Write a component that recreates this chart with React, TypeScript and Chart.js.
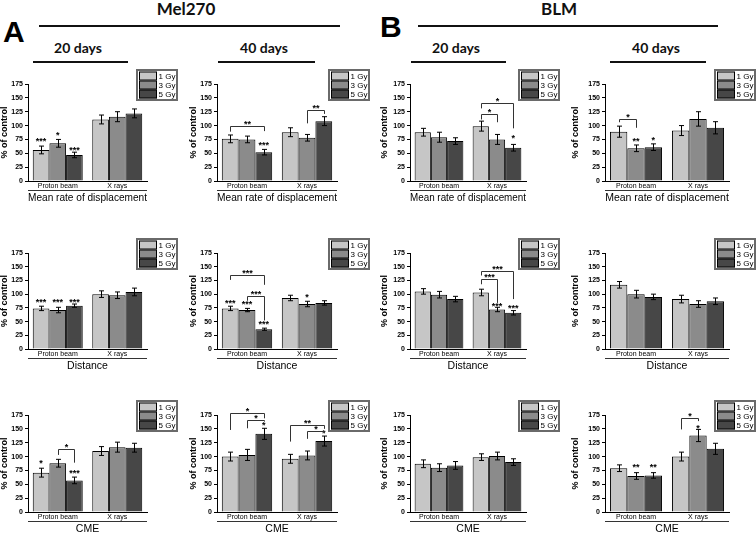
import React, { useEffect, useRef } from "react";
import { Chart, registerables } from "chart.js";

Chart.register(...registerables);
Chart.defaults.font.family = "'Liberation Sans', Arial, sans-serif";
Chart.defaults.color = "#000";

const groups = ["Proton beam", "X rays"];
const doses = ["1 Gy", "3 Gy", "5 Gy"];
const yTicks = [0, 25, 50, 75, 100, 125, 150, 175];
const doseColors = ["#c6c6c6", "#8b8b8b", "#474747"];
const rowTitles = ["Mean rate of displacement", "Distance", "CME"];

// means and SEMs: one row per dose, [proton beam, x rays]
// stars: [dose, group, y, text]
// brackets: [group, doseFrom, doseTo, yTop, yFromEnd, yToEnd, text]
type Star = [number, number, number, string];
type Bracket = [number, number, number, number, number, number, string];

const melDisp20Mean = [[56, 111], [68, 116], [47, 122]];
const melDisp20Err = [[7, 8], [7, 9], [5, 8]];
const melDisp20Stars: Star[] = [[0, 0, 75, "***"], [1, 0, 86, "*"], [2, 0, 60, "***"]];
const melDisp20Brackets: Bracket[] = [];

const melDisp40Mean = [[76, 88], [75, 78], [52, 108]];
const melDisp40Err = [[7, 8], [6, 6], [5, 8]];
const melDisp40Stars: Star[] = [[2, 0, 69, "***"]];
const melDisp40Brackets: Bracket[] = [[0, 0, 2, 100, 89, 90, "**"], [1, 1, 2, 128, 104, 121, "**"]];

const blmDisp20Mean = [[88, 99], [79, 75], [72, 60]];
const blmDisp20Err = [[7, 9], [9, 9], [6, 6]];
const blmDisp20Stars: Star[] = [[2, 1, 81, "*"]];
const blmDisp20Brackets: Bracket[] = [[1, 0, 1, 121, 111, 106, "*"], [1, 0, 2, 141, 131, 95, "*"]];

const blmDisp40Mean = [[89, 91], [59, 112], [61, 96]];
const blmDisp40Err = [[10, 9], [6, 13], [6, 11]];
const blmDisp40Stars: Star[] = [[1, 0, 75, "**"], [2, 0, 78, "*"]];
const blmDisp40Brackets: Bracket[] = [[0, 0, 1, 112, 106, 96, "*"]];

const melDist20Mean = [[74, 100], [71, 98], [79, 104]];
const melDist20Err = [[4, 6], [5, 6], [3, 7]];
const melDist20Stars: Star[] = [[0, 0, 90, "***"], [1, 0, 90, "***"], [2, 0, 90, "***"]];
const melDist20Brackets: Bracket[] = [];

const melDist40Mean = [[74, 93], [71, 82], [36, 84]];
const melDist40Err = [[4, 5], [3, 5], [2, 4]];
const melDist40Stars: Star[] = [[0, 0, 87, "***"], [1, 0, 85, "***"], [2, 0, 49, "***"], [1, 1, 99, "*"]];
const melDist40Brackets: Bracket[] = [[0, 0, 2, 135, 126, 117, "***"], [0, 1, 2, 96, 88, 52, "***"]];

const blmDist20Mean = [[105, 103], [99, 72], [91, 66]];
const blmDist20Err = [[5, 6], [6, 4], [5, 4]];
const blmDist20Stars: Star[] = [[1, 1, 82, "***"], [2, 1, 78, "***"]];
const blmDist20Brackets: Bracket[] = [[1, 0, 1, 128, 118, 84, "***"], [1, 0, 2, 143, 134, 91, "***"]];

const blmDist40Mean = [[117, 91], [100, 82], [95, 87]];
const blmDist40Err = [[6, 7], [7, 6], [5, 6]];

const melCme20Mean = [[71, 110], [88, 117], [57, 116]];
const melCme20Err = [[8, 8], [7, 9], [6, 8]];
const melCme20Stars: Star[] = [[0, 0, 92, "*"], [2, 0, 74, "***"]];
const melCme20Brackets: Bracket[] = [[0, 1, 2, 114, 103, 89, "*"]];

const melCme40Mean = [[100, 96], [103, 102], [141, 128]];
const melCme40Err = [[8, 8], [10, 8], [10, 9]];
const melCme40Stars: Star[] = [[2, 0, 160, "*"], [2, 1, 146, "*"]];
const melCme40Brackets: Bracket[] = [
  [0, 0, 2, 178, 148, 169, "*"],
  [0, 1, 2, 166, 151, 163, "*"],
  [1, 0, 2, 157, 127, 150, "**"],
  [1, 1, 2, 147, 132, 143, "*"],
];

const blmCme20Mean = [[87, 99], [80, 101], [84, 90]];
const blmCme20Err = [[7, 6], [7, 7], [7, 6]];

const blmCme40Mean = [[79, 100], [65, 138], [66, 114]];
const blmCme40Err = [[6, 8], [6, 11], [5, 10]];
const blmCme40Stars: Star[] = [[1, 0, 84, "**"], [2, 0, 84, "**"], [1, 1, 156, "*"]];
const blmCme40Brackets: Bracket[] = [[1, 0, 1, 169, 149, 164, "*"]];

// page layout (pixels)
const columns = [
  { axis: 28, right: 147, yWidth: 29, legendDx: -11 },
  { axis: 217, right: 337, yWidth: 29, legendDx: -9 },
  { axis: 410, right: 526, yWidth: 31, legendDx: -8 },
  { axis: 605, right: 729, yWidth: 35, legendDx: -15 },
];
const rows = [
  { top: 84, bottom: 181 },
  { top: 253, bottom: 349 },
  { top: 415, bottom: 512 },
];
const PAD_TOP = 26;
const PAD_RIGHT = 34;
const X_HEIGHT = 23;

type PanelProps = {
  mean: number[][];
  err: number[][];
  stars?: Star[];
  brackets?: Bracket[];
  row: number;
  col: number;
};

const Panel: React.FC<PanelProps> = ({ mean, err, stars = [], brackets = [], row, col }) => {
  const canvasRef = useRef<HTMLCanvasElement | null>(null);
  const c = columns[col];
  const r = rows[row];
  const width = c.yWidth + (c.right - c.axis) + PAD_RIGHT;
  const height = PAD_TOP + (r.bottom - r.top) + X_HEIGHT;

  useEffect(() => {
    if (!canvasRef.current) return;

    const overlay = {
      id: "overlay",
      afterDatasetsDraw(chart: Chart) {
        const { ctx } = chart;
        const y = chart.scales.y;
        const barX = (d: number, g: number) => (chart.getDatasetMeta(d).data[g] as any).x as number;
        ctx.save();
        ctx.strokeStyle = "#000";
        ctx.lineWidth = 1;
        // error bars
        err.forEach((rowErr, d) => {
          rowErr.forEach((e, g) => {
            const x = Math.round(barX(d, g)) + 0.5;
            const top = y.getPixelForValue(mean[d][g] + e);
            const bot = y.getPixelForValue(mean[d][g] - e);
            ctx.beginPath();
            ctx.moveTo(x, top);
            ctx.lineTo(x, bot);
            ctx.moveTo(x - 2.5, top);
            ctx.lineTo(x + 2.5, top);
            ctx.moveTo(x - 2.5, bot);
            ctx.lineTo(x + 2.5, bot);
            ctx.stroke();
          });
        });
        // significance
        ctx.font = "bold 9px 'Liberation Sans', Arial, sans-serif";
        ctx.textAlign = "center";
        ctx.textBaseline = "alphabetic";
        ctx.fillStyle = "#000";
        stars.forEach(([d, g, v, t]) => {
          ctx.fillText(t, barX(d, g), y.getPixelForValue(v) + 5);
        });
        ctx.strokeStyle = "#333";
        brackets.forEach(([g, d1, d2, top, e1, e2, t]) => {
          const x1 = Math.round(barX(d1, g)) + 0.5;
          const x2 = Math.round(barX(d2, g)) + 0.5;
          const yt = Math.round(y.getPixelForValue(top)) + 0.5;
          ctx.beginPath();
          ctx.moveTo(x1, y.getPixelForValue(e1));
          ctx.lineTo(x1, yt);
          ctx.lineTo(x2, yt);
          ctx.lineTo(x2, y.getPixelForValue(e2));
          ctx.stroke();
          ctx.fillText(t, (x1 + x2) / 2, yt + 0.5);
        });
        ctx.restore();
      },
      afterDraw(chart: Chart) {
        const { ctx, chartArea } = chart;
        const x = chart.scales.x;
        ctx.save();
        // rule under the group labels
        ctx.strokeStyle = "#333";
        ctx.lineWidth = 1;
        ctx.beginPath();
        ctx.moveTo(chartArea.left, Math.round(x.top + 9) + 0.5);
        ctx.lineTo(chartArea.right, Math.round(x.top + 9) + 0.5);
        ctx.stroke();
        // legend box
        const lx = Math.round(chartArea.right + c.legendDx);
        const ly = Math.round(chartArea.top - 15);
        ctx.fillStyle = "#fff";
        ctx.fillRect(lx, ly, 42, 32);
        ctx.strokeStyle = "#6a6a6a";
        ctx.lineWidth = 2;
        ctx.strokeRect(lx + 1, ly + 1, 40, 30);
        ctx.font = "8px 'Liberation Sans', Arial, sans-serif";
        ctx.textAlign = "left";
        ctx.textBaseline = "middle";
        doses.forEach((label, i) => {
          const sy = ly + 2.5 + i * 9;
          ctx.fillStyle = doseColors[i];
          ctx.fillRect(lx + 3, sy, 18, 9);
          ctx.strokeStyle = "#000";
          ctx.lineWidth = 1;
          ctx.strokeRect(lx + 3.5, sy + 0.5, 17, 8);
          ctx.fillStyle = "#000";
          ctx.fillText(label, lx + 22.5, sy + 5);
        });
        ctx.restore();
      },
    };

    const chart = new Chart(canvasRef.current, {
      type: "bar",
      data: {
        labels: groups,
        datasets: doses.map((label, d) => ({
          label,
          data: mean[d],
          backgroundColor: doseColors[d],
          borderColor: "#000",
          borderWidth: 1,
          categoryPercentage: 0.84,
          barPercentage: 1,
        })),
      },
      options: {
        responsive: false,
        animation: false,
        events: [],
        layout: { padding: { top: PAD_TOP, right: PAD_RIGHT, left: 0, bottom: 0 } },
        plugins: {
          legend: { display: false },
          tooltip: { enabled: false },
        },
        scales: {
          x: {
            grid: { display: false, drawTicks: false },
            border: { display: true, color: "#000", width: 1 },
            ticks: { font: { size: 7 }, padding: 1, maxRotation: 0 },
            title: {
              display: true,
              text: rowTitles[row],
              font: { size: 10.5 },
              color: "#000",
              padding: 0,
            },
            afterFit: (axis) => {
              axis.height = X_HEIGHT;
            },
          },
          y: {
            min: 0,
            max: 175,
            afterBuildTicks: (axis) => {
              axis.ticks = yTicks.map((value) => ({ value }));
            },
            grid: { display: true, drawOnChartArea: false, drawTicks: true, tickLength: 3, color: "#000" },
            border: { display: true, color: "#000", width: 1 },
            ticks: { font: { size: 7, weight: "bold" }, padding: 2 },
            title: {
              display: true,
              text: "% of control",
              font: { size: 9, weight: "bold" },
              padding: 0,
            },
            afterFit: (axis) => {
              axis.width = c.yWidth;
            },
          },
        },
      },
      plugins: [overlay],
    });

    return () => {
      chart.destroy();
    };
  }, []);

  return (
    <canvas
      ref={canvasRef}
      width={width}
      height={height}
      style={{ position: "absolute", left: c.axis - c.yWidth, top: r.top - PAD_TOP, width, height }}
    />
  );
};

const headFont = "Lato, 'Open Sans', sans-serif";

const Rule: React.FC<{ x1: number; x2: number; y: number }> = ({ x1, x2, y }) => (
  <div style={{ position: "absolute", left: x1, top: y - 0.75, width: x2 - x1, height: 1.5, background: "#111" }} />
);

const Head: React.FC<{ text: string; cx: number; top: number; size: number }> = ({ text, cx, top, size }) => (
  <div
    style={{
      position: "absolute",
      left: cx - 100,
      width: 200,
      top,
      textAlign: "center",
      fontFamily: headFont,
      fontWeight: 700,
      fontSize: size,
      lineHeight: 1,
      color: "#111",
      whiteSpace: "nowrap",
    }}
  >
    {text}
  </div>
);

const Letter: React.FC<{ text: string; left: number; top: number }> = ({ text, left, top }) => (
  <div
    style={{
      position: "absolute",
      left,
      top,
      fontFamily: "'Liberation Sans', Arial, sans-serif",
      fontWeight: 700,
      fontSize: 30,
      lineHeight: 1,
      color: "#000",
    }}
  >
    {text}
  </div>
);

const App: React.FC = () => {
  return (
    <div style={{ position: "absolute", left: 0, top: 0, width: 756, height: 533, background: "#fff", overflow: "hidden" }}>
      <Letter text="A" left={3} top={17} />
      <Letter text="B" left={380} top={12} />
      <Head text="Mel270" cx={186} top={0} size={17} />
      <Head text="BLM" cx={559} top={0} size={17} />
      <Rule x1={39} x2={340} y={26} />
      <Rule x1={418} x2={718} y={26} />
      <Head text="20 days" cx={78} top={41} size={14} />
      <Head text="40 days" cx={264} top={41} size={14} />
      <Head text="20 days" cx={456} top={41} size={14} />
      <Head text="40 days" cx={656} top={41} size={14} />
      <Rule x1={33} x2={128} y={62} />
      <Rule x1={218} x2={315} y={62} />
      <Rule x1={411} x2={506} y={62} />
      <Rule x1={610} x2={706} y={62} />

      <Panel row={0} col={0} mean={melDisp20Mean} err={melDisp20Err} stars={melDisp20Stars} brackets={melDisp20Brackets} />
      <Panel row={0} col={1} mean={melDisp40Mean} err={melDisp40Err} stars={melDisp40Stars} brackets={melDisp40Brackets} />
      <Panel row={0} col={2} mean={blmDisp20Mean} err={blmDisp20Err} stars={blmDisp20Stars} brackets={blmDisp20Brackets} />
      <Panel row={0} col={3} mean={blmDisp40Mean} err={blmDisp40Err} stars={blmDisp40Stars} brackets={blmDisp40Brackets} />

      <Panel row={1} col={0} mean={melDist20Mean} err={melDist20Err} stars={melDist20Stars} brackets={melDist20Brackets} />
      <Panel row={1} col={1} mean={melDist40Mean} err={melDist40Err} stars={melDist40Stars} brackets={melDist40Brackets} />
      <Panel row={1} col={2} mean={blmDist20Mean} err={blmDist20Err} stars={blmDist20Stars} brackets={blmDist20Brackets} />
      <Panel row={1} col={3} mean={blmDist40Mean} err={blmDist40Err} />

      <Panel row={2} col={0} mean={melCme20Mean} err={melCme20Err} stars={melCme20Stars} brackets={melCme20Brackets} />
      <Panel row={2} col={1} mean={melCme40Mean} err={melCme40Err} stars={melCme40Stars} brackets={melCme40Brackets} />
      <Panel row={2} col={2} mean={blmCme20Mean} err={blmCme20Err} />
      <Panel row={2} col={3} mean={blmCme40Mean} err={blmCme40Err} stars={blmCme40Stars} brackets={blmCme40Brackets} />
    </div>
  );
};

export default App;
